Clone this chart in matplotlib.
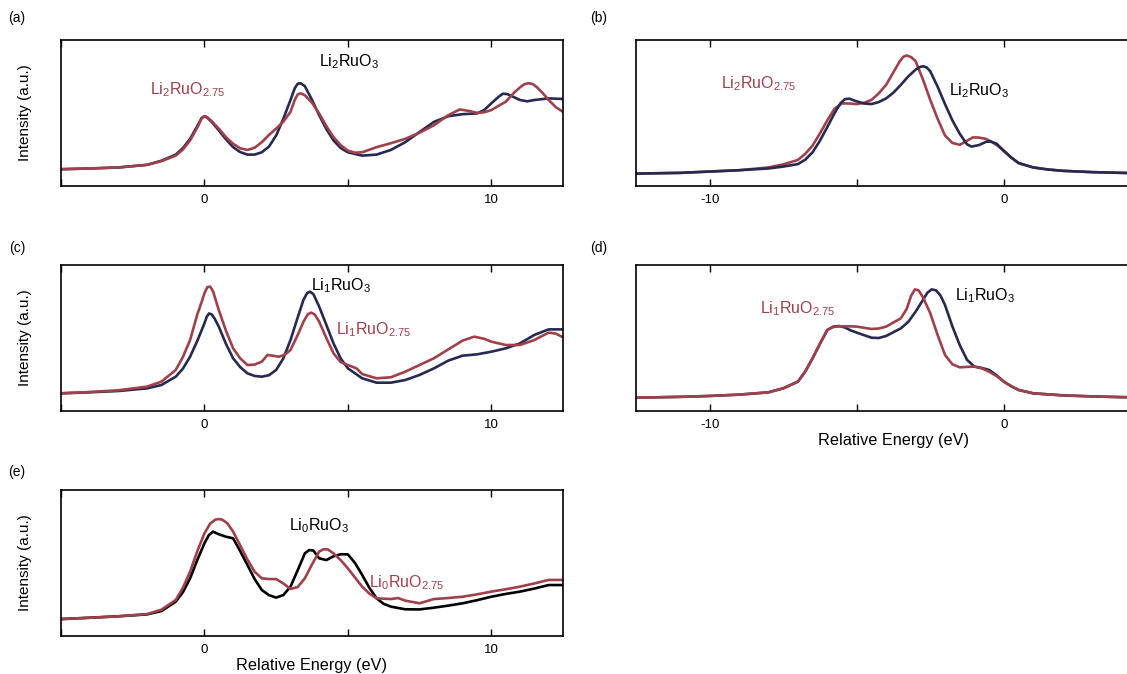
import numpy as np
import matplotlib.pyplot as plt

plt.rcParams['font.family'] = ['Liberation Sans', 'DejaVu Sans']
plt.rcParams['mathtext.fontset'] = 'custom'
plt.rcParams['mathtext.rm'] = 'Liberation Sans'
plt.rcParams['mathtext.it'] = 'Liberation Sans:italic'

navy = '#262950'
red = '#a0404a'

# (a) Li2RuO3 vs Li2RuO2.75, unoccupied side
a_x_o3 = [-5, -4, -3, -2, -1.5, -1, -0.75, -0.5, -0.25, -0.1, 0, 0.1, 0.25, 0.5, 0.75, 1, 1.25, 1.5, 1.75, 2,
          2.25, 2.5, 2.75, 3, 3.15, 3.25, 3.35, 3.5, 3.75, 4, 4.25, 4.5, 4.75, 5, 5.5, 6, 6.5, 7, 7.5, 8, 8.5,
          9, 9.5, 9.75, 10, 10.25, 10.4, 10.55, 10.75, 11, 11.25, 11.5, 12, 12.5]
a_y_o3 = [.115, .120, .127, .145, .173, .215, .26, .323, .41, .465, .478, .468, .44, .381, .32, .266, .232, .215,
          .215, .231, .27, .346, .46, .589, .67, .70, .704, .684, .59, .485, .39, .312, .26, .231, .208, .215,
          .247, .300, .370, .439, .478, .492, .497, .52, .566, .61, .632, .63, .612, .589, .58, .589, .600, .596]
a_x_o275 = [-5, -4, -3, -2, -1.5, -1, -0.75, -0.5, -0.25, -0.1, 0, 0.1, 0.25, 0.5, 0.75, 1, 1.25, 1.5, 1.75, 2,
            2.25, 2.5, 2.75, 3, 3.15, 3.25, 3.35, 3.5, 3.75, 4, 4.25, 4.5, 4.75, 5, 5.25, 5.5, 6, 6.5, 7, 7.5,
            8, 8.5, 8.9, 9.2, 9.5, 9.75, 10, 10.5, 10.8, 11, 11.15, 11.3, 11.45, 11.6, 11.8, 12, 12.25, 12.5]
a_y_o275 = [.115, .120, .127, .145, .17, .208, .25, .312, .40, .462, .478, .47, .445, .393, .335, .289, .258,
            .247, .262, .300, .35, .393, .44, .508, .59, .627, .635, .622, .57, .497, .41, .335, .28, .242, .228,
            .231, .266, .293, .323, .365, .416, .485, .524, .515, .501, .505, .520, .577, .64, .675, .697, .704,
            .698, .675, .635, .589, .54, .508]

# (b) Li2RuO3 vs Li2RuO2.75, occupied side
b_x_o3 = [-12.5, -11, -10, -9, -8, -7.5, -7, -6.75, -6.5, -6.25, -6, -5.75, -5.55, -5.4, -5.25, -5.05, -4.75,
          -4.5, -4.25, -4, -3.75, -3.5, -3.25, -3, -2.85, -2.75, -2.62, -2.5, -2.25, -2, -1.75, -1.5, -1.25,
          -1.1, -0.85, -0.6, -0.45, -0.25, 0, 0.25, 0.5, 1, 1.5, 2, 3, 4, 5]
b_y_o3 = [.085, .09, .099, .108, .120, .133, .150, .18, .231, .31, .404, .50, .567, .595, .598, .583, .565, .561,
          .575, .600, .64, .693, .75, .797, .815, .820, .812, .785, .68, .561, .45, .358, .285, .27, .28, .303,
          .305, .29, .242, .195, .157, .127, .113, .104, .095, .09, .085]
b_x_o275 = [-12.5, -11, -10, -9, -8, -7.5, -7, -6.75, -6.5, -6.25, -6, -5.75, -5.5, -5.25, -5, -4.75, -4.5,
            -4.25, -4, -3.75, -3.55, -3.42, -3.3, -3.15, -3, -2.75, -2.5, -2.25, -2, -1.75, -1.5, -1.25, -1.05,
            -0.85, -0.6, -0.4, -0.2, 0, 0.25, 0.5, 1, 1.5, 2, 3, 4, 5]
b_y_o275 = [.085, .09, .099, .108, .127, .148, .178, .22, .277, .36, .450, .53, .566, .565, .561, .57, .589, .635,
            .693, .78, .85, .885, .894, .883, .855, .73, .589, .46, .346, .295, .282, .31, .333, .332, .322, .30,
            .275, .238, .195, .157, .127, .113, .104, .095, .09, .085]

# (c) Li1RuO3 vs Li1RuO2.75, unoccupied side
c_x_o3 = [-5, -4, -3, -2, -1.5, -1, -0.75, -0.5, -0.25, 0, 0.08, 0.16, 0.25, 0.35, 0.5, 0.75, 1, 1.25, 1.5, 1.75,
          2, 2.25, 2.5, 2.75, 3, 3.25, 3.45, 3.58, 3.68, 3.8, 4, 4.25, 4.5, 4.75, 5, 5.5, 6, 6.5, 7, 7.5, 8, 8.5,
          9, 9.5, 10, 10.5, 11, 11.5, 12, 12.5]
c_y_o3 = [.121, .128, .137, .155, .178, .235, .29, .372, .48, .600, .645, .668, .662, .635, .578, .46, .361, .30,
          .258, .24, .235, .245, .281, .36, .486, .64, .76, .808, .817, .80, .715, .59, .463, .36, .292, .224,
          .194, .194, .212, .247, .292, .345, .379, .388, .406, .429, .463, .521, .559, .559]
c_x_o275 = [-5, -4, -3, -2, -1.5, -1, -0.75, -0.5, -0.25, -0.1, 0, 0.1, 0.2, 0.3, 0.5, 0.75, 1, 1.25, 1.5, 1.75,
            2, 2.2, 2.4, 2.6, 2.8, 3, 3.25, 3.45, 3.6, 3.72, 3.85, 4, 4.25, 4.5, 4.75, 5, 5.3, 5.5, 6, 6.5, 7,
            7.5, 8, 8.5, 9, 9.4, 9.75, 10, 10.5, 11, 11.5, 12, 12.25, 12.5]
c_y_o275 = [.121, .13, .142, .167, .201, .281, .37, .486, .66, .745, .806, .848, .852, .82, .692, .55, .429, .36,
            .315, .318, .338, .384, .378, .372, .385, .418, .52, .61, .662, .674, .66, .612, .50, .395, .335,
            .315, .292, .253, .224, .231, .269, .315, .361, .422, .482, .509, .495, .475, .452, .452, .486, .537,
            .53, .505]

# (d) Li1RuO3 vs Li1RuO2.75, occupied side
d_x_o3 = [-12.5, -11, -10, -9, -8, -7.5, -7, -6.75, -6.5, -6.25, -6, -5.8, -5.6, -5.4, -5.2, -5, -4.5, -4.25,
          -4, -3.5, -3.25, -3, -2.75, -2.6, -2.45, -2.3, -2.15, -2, -1.75, -1.5, -1.25, -1, -0.75, -0.5, -0.25,
          0, 0.25, 0.5, 1, 2, 3, 4, 5]
d_y_o3 = [.091, .097, .103, .112, .128, .155, .201, .27, .361, .46, .555, .578, .582, .572, .552, .537, .502, .50,
          .514, .566, .61, .680, .76, .81, .833, .826, .79, .726, .58, .452, .35, .304, .295, .281, .245, .201,
          .17, .144, .121, .107, .1, .095, .091]
d_x_o275 = [-12.5, -11, -10, -9, -8, -7.5, -7, -6.75, -6.5, -6.25, -6, -5.8, -5.6, -5.25, -5, -4.5, -4.25, -4,
            -3.5, -3.3, -3.15, -3.02, -2.9, -2.75, -2.5, -2.25, -2, -1.75, -1.5, -1.25, -1, -0.75, -0.5, -0.25,
            0, 0.25, 0.5, 1, 2, 3, 4, 5]
d_y_o275 = [.091, .097, .103, .112, .128, .155, .201, .27, .361, .46, .555, .575, .58, .58, .578, .562, .565,
            .578, .635, .70, .79, .833, .826, .78, .669, .52, .384, .32, .299, .302, .304, .292, .269, .24, .201,
            .17, .144, .121, .107, .1, .095, .091]

# (e) Li0RuO3 vs Li0RuO2.75, unoccupied side
e_x_o3 = [-5, -4, -3, -2, -1.5, -1, -0.75, -0.5, -0.25, 0, 0.15, 0.3, 0.5, 0.75, 1, 1.25, 1.5, 1.75, 2, 2.25,
          2.5, 2.75, 3, 3.25, 3.5, 3.65, 3.8, 4, 4.25, 4.5, 4.75, 5, 5.25, 5.5, 5.75, 6, 6.25, 6.5, 7, 7.5, 8,
          8.5, 9, 9.5, 10, 10.5, 11, 11.5, 12, 12.5]
e_y_o3 = [.116, .125, .135, .148, .171, .235, .30, .395, .52, .635, .69, .715, .697, .68, .669, .58, .486, .39,
          .315, .28, .263, .28, .338, .45, .566, .589, .585, .532, .52, .546, .56, .559, .50, .418, .33, .258,
          .22, .201, .183, .182, .194, .208, .224, .245, .269, .288, .304, .325, .349, .349]
e_x_o275 = [-5, -4, -3, -2, -1.5, -1, -0.75, -0.5, -0.25, 0, 0.2, 0.38, 0.5, 0.62, 0.8, 1, 1.25, 1.5, 1.75, 2,
            2.25, 2.5, 2.75, 3, 3.25, 3.5, 3.75, 4, 4.15, 4.3, 4.5, 4.75, 5, 5.25, 5.5, 5.75, 6, 6.5, 6.75, 7,
            7.5, 8, 8.5, 9, 9.5, 10, 10.5, 11, 11.5, 12, 12.5]
e_y_o275 = [.116, .125, .135, .15, .18, .247, .33, .441, .58, .703, .77, .797, .801, .797, .772, .715, .62, .523,
            .44, .395, .39, .390, .36, .322, .335, .395, .49, .578, .594, .593, .566, .52, .463, .40, .338, .29,
            .258, .253, .26, .242, .224, .253, .26, .269, .285, .304, .32, .338, .36, .384, .384]

fig = plt.figure(figsize=(11.27, 6.74), dpi=100)
W, H = 1127, 674


def make_axes(left, top, right, bottom):
    return fig.add_axes([left / W, 1 - bottom / H, (right - left) / W, (bottom - top) / H])


def style(ax, xlim, ticks, labels, ylabel=True, xlabel=False):
    ax.set_xlim(*xlim)
    ax.set_ylim(0, 1)
    ax.set_xticks(ticks)
    ax.set_xticklabels(labels)
    ax.set_yticks([])
    ax.tick_params(axis='x', direction='in', top=True, length=5, width=1, labelsize=9.5, pad=6)
    for s in ax.spines.values():
        s.set_linewidth(1.2)
    if ylabel:
        ax.set_ylabel('Intensity (a.u.)', fontsize=11, labelpad=21)
    if xlabel:
        ax.set_xlabel('Relative Energy (eV)', fontsize=11.7, labelpad=1)


lw = 1.9
fs = 11.5
pos_ticks = [-5, 0, 5, 10]
pos_labels = ['', '0', '', '10']
neg_ticks = [-10, -5, 0, 5]
neg_labels = ['-10', '', '0', '']
line_kw = dict(lw=lw, solid_joinstyle='round', solid_capstyle='round')

# (a)
ax = make_axes(61, 40, 563, 186)
ax.plot(a_x_o3, a_y_o3, color=navy, **line_kw)
ax.plot(a_x_o275, a_y_o275, color=red, **line_kw)
ax.text(4.0, 0.85, r'Li$_{\mathrm{2}}$RuO$_{\mathrm{3}}$', color='black', fontsize=fs, va='center')
ax.text(-1.9, 0.66, r'Li$_{\mathrm{2}}$RuO$_{\mathrm{2.75}}$', color=red, fontsize=fs, va='center')
style(ax, (-5, 12.5), pos_ticks, pos_labels)

# (b)
ax = make_axes(636, 40, 1151, 186)
ax.plot(b_x_o275, b_y_o275, color=red, **line_kw)
ax.plot(b_x_o3, b_y_o3, color=navy, **line_kw)
ax.text(-9.6, 0.70, r'Li$_{\mathrm{2}}$RuO$_{\mathrm{2.75}}$', color=red, fontsize=fs, va='center')
ax.text(-1.85, 0.65, r'Li$_{\mathrm{2}}$RuO$_{\mathrm{3}}$', color='black', fontsize=fs, va='center')
style(ax, (-12.5, 5), neg_ticks, neg_labels, ylabel=False)

# (c)
ax = make_axes(61, 265, 563, 411)
ax.plot(c_x_o3, c_y_o3, color=navy, **line_kw)
ax.plot(c_x_o275, c_y_o275, color=red, **line_kw)
ax.text(3.7, 0.86, r'Li$_{\mathrm{1}}$RuO$_{\mathrm{3}}$', color='black', fontsize=fs, va='center')
ax.text(4.6, 0.56, r'Li$_{\mathrm{1}}$RuO$_{\mathrm{2.75}}$', color=red, fontsize=fs, va='center')
style(ax, (-5, 12.5), pos_ticks, pos_labels)

# (d)
ax = make_axes(636, 265, 1151, 411)
ax.plot(d_x_o3, d_y_o3, color=navy, **line_kw)
ax.plot(d_x_o275, d_y_o275, color=red, **line_kw)
ax.text(-8.3, 0.70, r'Li$_{\mathrm{1}}$RuO$_{\mathrm{2.75}}$', color=red, fontsize=fs, va='center')
ax.text(-1.65, 0.79, r'Li$_{\mathrm{1}}$RuO$_{\mathrm{3}}$', color='black', fontsize=fs, va='center')
style(ax, (-12.5, 5), neg_ticks, neg_labels, ylabel=False, xlabel=True)

# (e)
ax = make_axes(61, 490, 563, 636)
ax.plot(e_x_o3, e_y_o3, color='black', **line_kw)
ax.plot(e_x_o275, e_y_o275, color=red, **line_kw)
ax.text(2.95, 0.757, r'Li$_{\mathrm{0}}$RuO$_{\mathrm{3}}$', color='black', fontsize=fs, va='center')
ax.text(5.75, 0.366, r'Li$_{\mathrm{0}}$RuO$_{\mathrm{2.75}}$', color=red, fontsize=fs, va='center')
style(ax, (-5, 12.5), pos_ticks, pos_labels, xlabel=True)

# panel letters
for lbl, px, py in [('(a)', 17, 18), ('(b)', 599, 18), ('(c)', 17, 248), ('(d)', 599, 248), ('(e)', 17, 472)]:
    fig.text(px / W, 1 - py / H, lbl, fontsize=10, ha='center', va='center')

fig.savefig('out.png', dpi=100)
